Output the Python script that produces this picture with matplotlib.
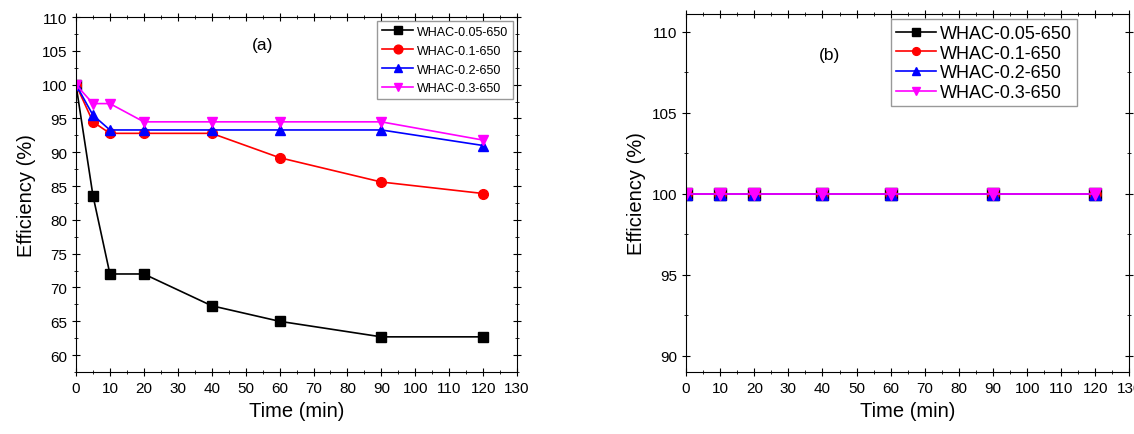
import matplotlib
matplotlib.use("Agg")
import matplotlib.pyplot as plt
from matplotlib.ticker import MultipleLocator

plt.rcParams["font.family"] = ["Liberation Sans", "DejaVu Sans"]

# 데이터 (a)
time_a = [0, 5, 10, 20, 40, 60, 90, 120]
eff_005 = [100, 83.6, 72.0, 72.0, 67.3, 65.0, 62.7, 62.7]
eff_01 = [100, 94.5, 92.8, 92.8, 92.8, 89.2, 85.6, 83.9]
eff_02 = [100, 95.5, 93.3, 93.3, 93.3, 93.3, 93.3, 91.0]
eff_03 = [100, 97.2, 97.2, 94.5, 94.5, 94.5, 94.5, 91.8]

# 데이터 (b)
time_b = [0, 10, 20, 40, 60, 90, 120]
eff_b_005 = [100, 100, 100, 100, 100, 100, 100]
eff_b_01 = [100, 100, 100, 100, 100, 100, 100]
eff_b_02 = [100, 100, 100, 100, 100, 100, 100]
eff_b_03 = [100, 100, 100, 100, 100, 100, 100]

labels = ["WHAC-0.05-650", "WHAC-0.1-650", "WHAC-0.2-650", "WHAC-0.3-650"]
colors = ["black", "red", "blue", "magenta"]
markers = ["s", "o", "^", "v"]

fig = plt.figure(figsize=(11.34, 4.35), dpi=100)
ax1 = fig.add_axes([0.067, 0.1425, 0.389, 0.816])
ax2 = fig.add_axes([0.605, 0.1425, 0.391, 0.823])


def style_axes(ax):
    ax.set_xlim(0, 130)
    ax.xaxis.set_major_locator(MultipleLocator(10))
    ax.xaxis.set_minor_locator(MultipleLocator(5))
    ax.yaxis.set_major_locator(MultipleLocator(5))
    ax.yaxis.set_minor_locator(MultipleLocator(2.5))
    ax.tick_params(which="both", direction="inout", top=True, right=True, labelsize=11)
    ax.tick_params(which="major", length=6)
    ax.tick_params(which="minor", length=3)
    ax.set_xlabel("Time (min)", fontsize=14.5)
    ax.set_ylabel("Efficiency (%)", fontsize=14.5)


# (a)
for y, lab, c, m in zip([eff_005, eff_01, eff_02, eff_03], labels, colors, markers):
    ax1.plot(time_a, y, marker=m, color=c, label=lab, lw=1.2, ms=7,
             markeredgecolor=c)
ax1.set_ylim(57.5, 110)
style_axes(ax1)
ax1.text(55, 106, "(a)", fontsize=12.5, ha="center", va="center")
leg1 = ax1.legend(loc="upper right", fontsize=9, handlelength=2.5,
                  borderaxespad=0.3, fancybox=False, edgecolor="gray",
                  labelspacing=0.55, markerscale=0.9, handletextpad=0.3)
leg1.get_frame().set_linewidth(1.0)

# (b)
for y, lab, c, m in zip([eff_b_005, eff_b_01, eff_b_02, eff_b_03], labels, colors, markers):
    ax2.plot(time_b, y, marker=m, color=c, label=lab, lw=1.2, ms=8,
             markeredgecolor=c)
ax2.set_ylim(89, 111.1)
style_axes(ax2)
ax2.text(42, 108.6, "(b)", fontsize=12.5, ha="center", va="center")
leg2 = ax2.legend(loc="upper right", bbox_to_anchor=(0.89, 0.995), fontsize=13,
                  handlelength=2.2, borderaxespad=0.2, fancybox=False,
                  edgecolor="gray", labelspacing=0.15, markerscale=0.7,
                  handletextpad=0.2, borderpad=0.3)
leg2.get_frame().set_linewidth(1.0)

plt.savefig("out.png", dpi=100)
